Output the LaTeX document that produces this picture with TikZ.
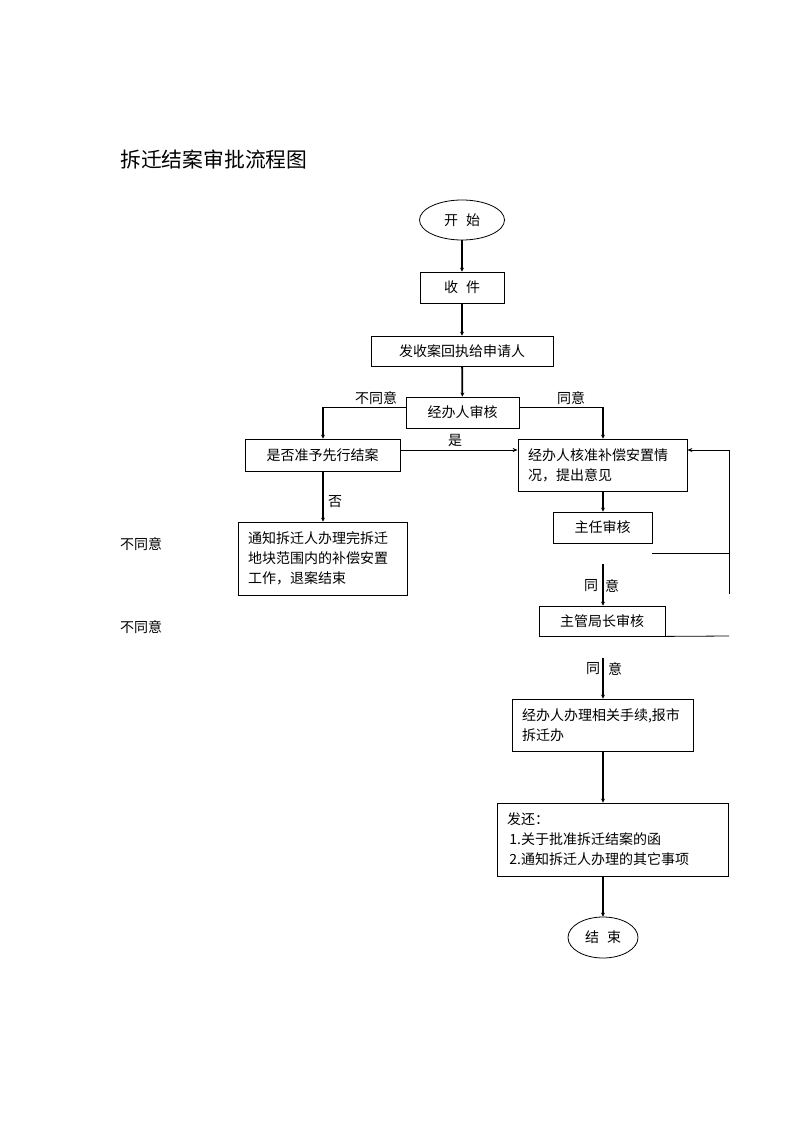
\documentclass[tikz,border=0pt]{standalone}
\usepackage{fontspec}
\setmainfont{Noto Sans CJK SC}
\usetikzlibrary{arrows.meta,shapes.geometric}
\tikzset{
  box/.style={draw,line width=0.8pt,rectangle,inner sep=0pt,font=\fontsize{14}{20}\selectfont},
  tbox/.style={box,inner xsep=10pt,align=left},
  oval/.style={draw,line width=0.8pt,ellipse,inner sep=0pt,font=\fontsize{14}{20}\selectfont},
  flow/.style={line width=1.8pt,-{Stealth[length=4pt,width=4pt]}},
  thinflow/.style={line width=0.8pt,-{Stealth[length=5pt,width=4pt]}},
  thinline/.style={line width=0.8pt},
  lbl/.style={inner sep=0pt,font=\fontsize{14}{16}\selectfont}
}
\begin{document}
\begin{tikzpicture}[x=1pt,y=-1pt]
\useasboundingbox (0,0) rectangle (794,1123);
\fill[white] (0,0) rectangle (794,1123);
\node[anchor=west,inner sep=0pt,font=\fontsize{20.8}{24}\selectfont] (title) at (120,160) {拆迁结案审批流程图};

\node[oval,minimum width=85,minimum height=40] (start) at (462,220) {开\hspace{8pt}始};
\node[box,minimum width=84,minimum height=31] (shou) at (462,287.5) {收\hspace{8pt}件};
\node[box,minimum width=182,minimum height=30] (fa) at (462,351) {发收案回执给申请人};
\node[box,minimum width=113,minimum height=31] (jb) at (462.5,412.5) {经办人审核};
\node[box,minimum width=155,minimum height=32] (sf) at (322.5,455) {是否准予先行结案};
\node[tbox,text width=149,minimum height=52] (hz) at (602.5,465) {经办人核准补偿安置情\\况，提出意见};
\node[tbox,text width=149,minimum height=73] (tz) at (322.5,558.5) {通知拆迁人办理完拆迁\\地块范围内的补偿安置\\工作，退案结束};
\node[box,minimum width=99,minimum height=31] (zr) at (602.5,527.5) {主任审核};
\node[box,minimum width=126,minimum height=30] (jz) at (602,621) {主管局长审核};
\node[tbox,text width=161,minimum height=52] (bl) at (602.5,725) {经办人办理相关手续,报市\\拆迁办};
\node[tbox,text width=211,minimum height=73] (fh) at (612.5,839.5) {发还：\\\,1.关于批准拆迁结案的函\\\,2.通知拆迁人办理的其它事项};
\node[oval,minimum width=70,minimum height=41] (end) at (603,937.5) {结\hspace{8pt}束};

\draw[flow] (start) -- (shou);
\draw[flow] (shou) -- (fa);
\draw[flow] (fa) -- (jb);

\coordinate (lc) at (323,407);
\coordinate (rc) at (603,407);
\draw[thinline] ([yshift=5.5pt]jb.west) -- (lc);
\draw[flow] (lc) -- (sf.north -| lc);
\draw[thinline] ([yshift=5.5pt]jb.east) -- (rc);
\draw[flow] (rc) -- (hz.north -| rc);
\node[lbl] (l1) at (376,398) {不同意};
\node[lbl] (l2) at (571,398) {同意};

\draw[thinflow] ([yshift=5pt]sf.east) -- (hz.west |- 0,450);
\node[lbl] (l3) at (455,440) {是};

\draw[flow] (sf.south -| 323,0) -- (tz.north -| 323,0);
\node[lbl] (l4) at (335,502) {否};

\draw[flow] (hz.south -| 603,0) -- (zr.north -| 603,0);

\coordinate (a1) at (603,564);
\draw[flow] (a1) -- (jz.north -| a1);
\node[lbl] (l5) at (591,586) {同};
\node[lbl] (l6) at (612,586) {意};

\coordinate (a2) at (603,658);
\draw[flow] (a2) -- (bl.north -| a2);
\node[lbl] (l7) at (593,669) {同};
\node[lbl] (l8) at (615,669) {意};

\draw[flow] (bl.south -| 603,0) -- (fh.north -| 603,0);
\draw[flow] (fh.south -| 603,0) -- (end.north);

\coordinate (fb0) at (729,594);
\coordinate (fb1) at (729,450);
\draw[thinflow] (fb0) -- (fb1) -- (hz.east |- fb1);
\coordinate (h1a) at (652,553);
\coordinate (h1b) at (729,553);
\draw[thinline] (h1a) -- (h1b);
\coordinate (h2b) at (729,636);
\draw[thinline] (jz.south east) -- (h2b);

\node[lbl] (l9) at (141,544) {不同意};
\node[lbl] (l10) at (141,627) {不同意};
\end{tikzpicture}
\end{document}
